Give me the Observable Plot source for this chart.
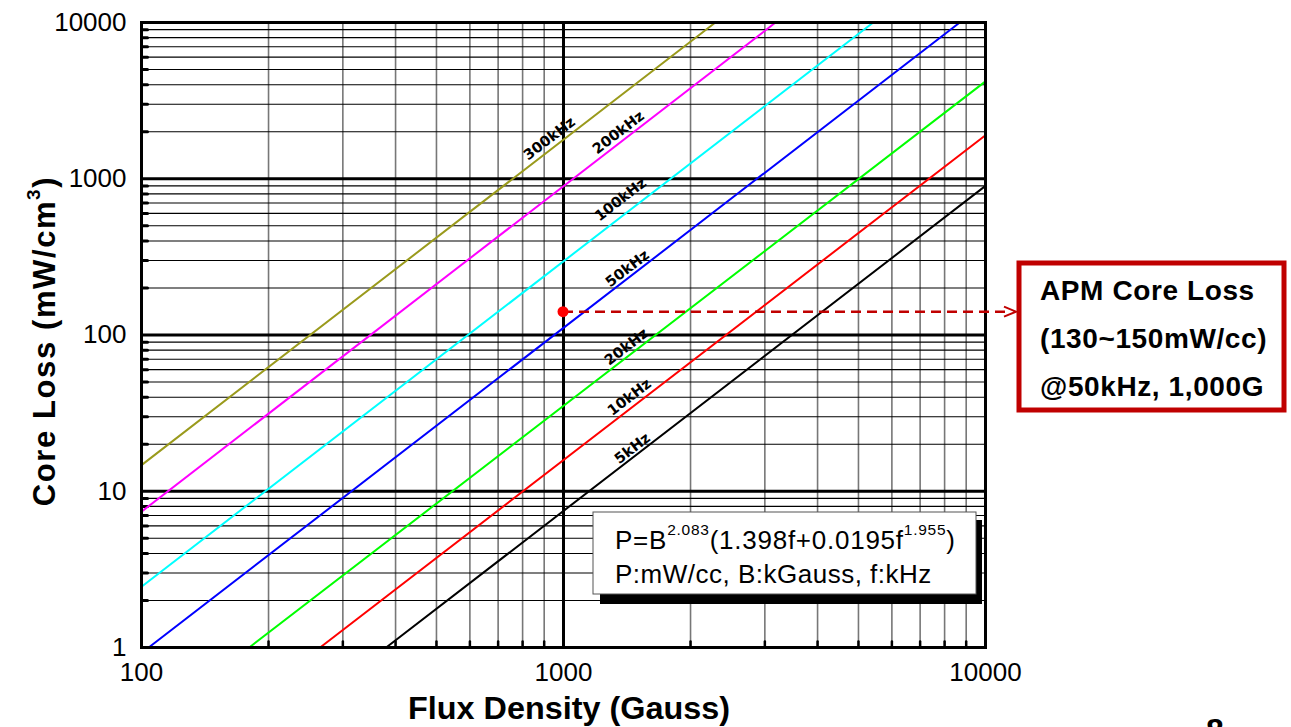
<!DOCTYPE html>
<html><head><meta charset="utf-8">
<script src="https://cdn.jsdelivr.net/npm/d3@7"></script>
<script src="https://cdn.jsdelivr.net/npm/@observablehq/plot@0.6"></script>
<style>body{margin:0;background:#fff;overflow:hidden} svg{display:block}</style>
</head><body><div id="chart"></div>
<script>
// Series (frequency curves): each is a straight line on log-log axes
const seriesNames = ["300kHz", "200kHz", "100kHz", "50kHz", "20kHz", "10kHz", "5kHz"];
const seriesColors = ["#9a9a1c", "#ff00ff", "#00ffff", "#0000ff", "#00ff00", "#ff0000", "#000000"];
const startB = [100, 100, 100, 104, 180, 265, 380];
const startP = [14.7, 7.4, 2.45, 1, 1, 1, 1];
const endB = [2290, 3180, 5420, 8690, 10000, 10000, 10000];
const endP = [10000, 10000, 10000, 10000, 4200, 1900, 900];
// label anchor positions (data units)
const labelB = [926, 1350, 1365, 1418, 1410, 1433, 1457];
const labelP = [1809, 1977, 736, 266, 84, 40, 18.8];
// axis ticks
const xMajor = [100, 1000, 10000];
const xMinor = [200, 300, 400, 500, 600, 700, 800, 900, 2000, 3000, 4000, 5000, 6000, 7000, 8000, 9000];
const yMajor = [1, 10, 100, 1000, 10000];
const yMinor = [2, 3, 4, 5, 6, 7, 8, 9, 20, 30, 40, 50, 60, 70, 80, 90, 200, 300, 400, 500, 600, 700, 800, 900, 2000, 3000, 4000, 5000, 6000, 7000, 8000, 9000];
// highlighted point
const pointB = [1000];
const pointP = [140];

const FONT = "'Liberation Sans', Arial, sans-serif";
const LABEL_FONT = "'DejaVu Sans', Verdana, sans-serif";

const lineRows = seriesNames.flatMap((s, i) => [
  {series: s, B: startB[i], P: startP[i]},
  {series: s, B: endB[i], P: endP[i]}
]);
const labelRows = seriesNames.map((s, i) => ({series: s, B: labelB[i], P: labelP[i]}));

const tickShape = {draw(context, l) { context.moveTo(0, 0); context.lineTo(0, -l); }};

const plot = Plot.plot({
  width: 1291,
  height: 727,
  marginLeft: 141,
  marginRight: 306,
  marginTop: 22,
  marginBottom: 80,
  style: {fontFamily: FONT, background: "white", color: "black", overflow: "hidden"},
  x: {type: "log", domain: [100, 10000]},
  y: {type: "log", domain: [1, 10000]},
  color: {domain: seriesNames, range: seriesColors},
  marks: [
    Plot.ruleX(xMinor, {stroke: "#777", strokeWidth: 1.6}),
    Plot.ruleY(yMinor, {stroke: "#000", strokeWidth: 1.1}),
    Plot.ruleX(xMajor, {stroke: "#000", strokeWidth: 3}),
    Plot.ruleY(yMajor, {stroke: "#000", strokeWidth: 3}),
    Plot.vector(yMinor, {x: 100, y: d => d, length: 6, rotate: 90, anchor: "start", shape: tickShape, strokeWidth: 3, stroke: "#000"}),
    Plot.vector(xMinor, {x: d => d, y: 1, length: 6, rotate: 0, anchor: "start", shape: tickShape, strokeWidth: 2.5, stroke: "#000"}),
    Plot.line(lineRows, {x: "B", y: "P", z: "series", stroke: "series", strokeWidth: 2}),
    Plot.text(labelRows, {x: "B", y: "P", text: "series", rotate: -37.6, fontWeight: "bold", fontSize: 14.5, fontFamily: LABEL_FONT, fill: "#000"}),
    Plot.frame({stroke: "#000", strokeWidth: 3}),
    Plot.axisX(xMajor, {tickSize: 0, tickPadding: 15, fontSize: 26, label: null, tickFormat: d => String(d)}),
    Plot.axisY(yMajor, {tickSize: 0, tickPadding: 15, fontSize: 26, label: null, tickFormat: d => String(d)})
  ]
});
document.getElementById("chart").appendChild(plot);

const svg = d3.select(plot);
const sx = plot.scale("x"), sy = plot.scale("y");
const px = sx.apply(pointB[0]), py = sy.apply(pointP[0]);

// axis titles
svg.append("text").attr("x", 569).attr("y", 719).attr("text-anchor", "middle")
  .attr("font-family", FONT).attr("font-weight", "bold").attr("font-size", 31).attr("fill", "#000")
  .attr("textLength", 322).attr("lengthAdjust", "spacingAndGlyphs")
  .text("Flux Density (Gauss)");
const yt = svg.append("text").attr("transform", "translate(55,341) rotate(-90)").attr("text-anchor", "middle")
  .attr("font-family", FONT).attr("font-weight", "bold").attr("font-size", 31).attr("letter-spacing", 1.6).attr("fill", "#000");
yt.append("tspan").text("Core Loss (mW/cm");
yt.append("tspan").attr("font-size", 19).attr("dy", -15).text("3");
yt.append("tspan").attr("dy", 15).text(")");

// formula box
svg.append("rect").attr("x", 600).attr("y", 520).attr("width", 382).attr("height", 84).attr("fill", "#000");
svg.append("rect").attr("x", 593).attr("y", 512).attr("width", 383).attr("height", 82)
  .attr("fill", "#fff").attr("stroke", "#555").attr("stroke-width", 1);
const f1 = svg.append("text").attr("x", 615).attr("y", 549).attr("text-anchor", "start")
  .attr("font-family", FONT).attr("font-size", 26).attr("letter-spacing", 0.75).attr("fill", "#000");
f1.append("tspan").text("P=B");
f1.append("tspan").attr("font-size", 15.5).attr("dy", -14).text("2.083");
f1.append("tspan").attr("dy", 14).text("(1.398f+0.0195f");
f1.append("tspan").attr("font-size", 15.5).attr("dy", -14).text("1.955");
f1.append("tspan").attr("dy", 14).text(")");
svg.append("text").attr("x", 615).attr("y", 583).attr("text-anchor", "start")
  .attr("font-family", FONT).attr("font-size", 26).attr("letter-spacing", 0.5).attr("fill", "#000")
  .text("P:mW/cc, B:kGauss, f:kHz");

// dashed annotation arrow
svg.append("line").attr("x1", px).attr("y1", py).attr("x2", 1008).attr("y2", py)
  .attr("stroke", "#c00000").attr("stroke-width", 2.5).attr("stroke-dasharray", "10,6");
svg.append("path").attr("d", `M1004,${py - 5} L1016,${py} L1004,${py + 5}`)
  .attr("fill", "none").attr("stroke", "#c00000").attr("stroke-width", 2);
svg.append("circle").attr("cx", px).attr("cy", py).attr("r", 5.5).attr("fill", "#ff0000");

// APM box
svg.append("rect").attr("x", 1019).attr("y", 263).attr("width", 265).attr("height", 147)
  .attr("fill", "#fff").attr("stroke", "#c00000").attr("stroke-width", 5);
[["APM Core Loss", 300], ["(130~150mW/cc)", 348], ["@50kHz, 1,000G", 396]].forEach(([t, y]) => {
  svg.append("text").attr("x", 1040).attr("y", y).attr("text-anchor", "start").attr("font-family", FONT)
    .attr("font-weight", "bold").attr("font-size", 28).attr("letter-spacing", 0.6).attr("fill", "#000").text(t);
});

// page number (cut off at bottom, as in the source slide)
svg.append("text").attr("x", 1215).attr("y", 741).attr("text-anchor", "middle").attr("font-family", FONT)
  .attr("font-weight", "bold").attr("font-size", 32).attr("fill", "#000").text("8");
</script>
</body></html>
